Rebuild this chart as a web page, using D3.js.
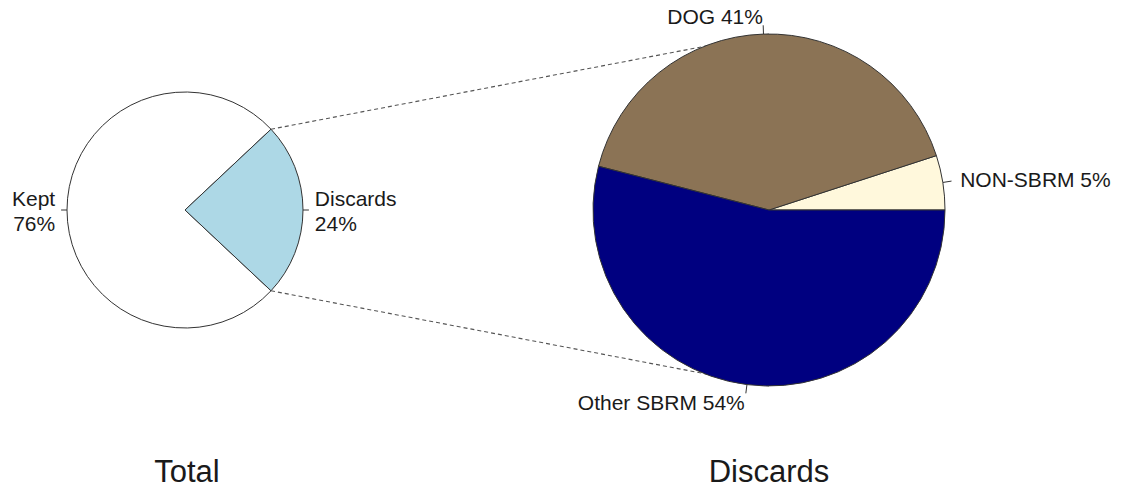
<!DOCTYPE html>
<html>
<head>
<meta charset="utf-8">
<script src="https://cdn.jsdelivr.net/npm/d3@7"></script>
<style>
  body { margin: 0; background: #fff; }
  svg text { font-family: "Liberation Sans", Arial, sans-serif; fill: #1a1a1a; }
</style>
</head>
<body>
<div class="chart"></div>
<script>
// data
var totalLabels = ["Kept", "Discards"];
var totalValues = [76, 24];
var totalColors = ["#ffffff", "#add8e6"];

var discardLabels = ["NON-SBRM", "DOG", "Other SBRM"];
var discardValues = [5, 41, 54];
var discardColors = ["#fff8dc", "#8b7355", "#000080"];

var titles = ["Total", "Discards"];

var svgWidth = 1123;
var svgHeight = 489;

var svg = d3.select(".chart")
    .append("svg")
    .attr("width", svgWidth)
    .attr("height", svgHeight);

var left = { cx: 185, cy: 210, r: 118 };
var right = { cx: 769, cy: 210, r: 176 };

// R style pies: counterclockwise from 3 o'clock -> d3 angle = pi/2 - a
function rAngle(deg) {
    return Math.PI / 2 - deg * Math.PI / 180;
}

var discardShare = totalValues[1] / d3.sum(totalValues);
var initDeg = 180 * discardShare; // discards slice centred on 3 o'clock

var pieLeft = d3.pie().sort(null)
    .startAngle(rAngle(initDeg))
    .endAngle(rAngle(initDeg) - 2 * Math.PI);

var pieRight = d3.pie().sort(null)
    .startAngle(rAngle(0))
    .endAngle(rAngle(0) - 2 * Math.PI);

var leftArcs = pieLeft(totalValues);
var rightArcs = pieRight(discardValues);

// dashed connector lines (drawn first, right pie covers their ends)
// angles run counterclockwise, so the slice's end edge is the upper one
var dEdge = leftArcs[1];
var connectors = [
    [dEdge.endAngle, right.cy - right.r],
    [dEdge.startAngle, right.cy + right.r]
];
svg.append("g").selectAll("line")
    .data(connectors)
    .enter()
    .append("line")
    .attr("x1", function(d) { return left.cx + left.r * Math.sin(d[0]); })
    .attr("y1", function(d) { return left.cy - left.r * Math.cos(d[0]); })
    .attr("x2", right.cx)
    .attr("y2", function(d) { return d[1]; })
    .attr("stroke", "#555")
    .attr("stroke-width", 1.1)
    .attr("stroke-dasharray", "4,3");

function drawPie(p, arcs, colors, labels, values, multiLine) {
    var g = svg.append("g")
        .attr("transform", "translate(" + p.cx + "," + p.cy + ")");

    var arc = d3.arc().innerRadius(0).outerRadius(p.r);

    g.selectAll("path")
        .data(arcs)
        .enter()
        .append("path")
        .attr("d", arc)
        .attr("fill", function(d, i) { return colors[i]; })
        .attr("stroke", "#333")
        .attr("stroke-width", 1);

    arcs.forEach(function(d, i) {
        var mid = (d.startAngle + d.endAngle) / 2;
        var sx = Math.sin(mid), sy = -Math.cos(mid);
        g.append("line")
            .attr("x1", sx * p.r).attr("y1", sy * p.r)
            .attr("x2", sx * p.r * 1.05).attr("y2", sy * p.r * 1.05)
            .attr("stroke", "#333")
            .attr("stroke-width", 1);

        var pct = Math.round(values[i] / d3.sum(values) * 100) + "%";
        var text = g.append("text")
            .attr("x", sx * p.r * 1.1)
            .attr("y", sy * p.r * 1.1)
            .attr("text-anchor", sx > 0.001 ? "start" : "end")
            .style("font-size", "21px");

        if (multiLine) {
            text.append("tspan")
                .attr("x", sx * p.r * 1.1)
                .attr("dy", "-0.2em")
                .text(labels[i]);
            text.append("tspan")
                .attr("x", sx * p.r * 1.1)
                .attr("dy", "1.2em")
                .text(pct);
        } else {
            text.attr("dy", "0.36em").text(labels[i] + " " + pct);
        }
    });
}

drawPie(left, leftArcs, totalColors, totalLabels, totalValues, true);
drawPie(right, rightArcs, discardColors, discardLabels, discardValues, false);

svg.selectAll(".title")
    .data(titles)
    .enter()
    .append("text")
    .attr("class", "title")
    .attr("x", function(d, i) { return i == 0 ? left.cx + 2 : right.cx; })
    .attr("y", 482)
    .attr("text-anchor", "middle")
    .style("font-size", "31px")
    .text(function(d) { return d; });
</script>
</body>
</html>
